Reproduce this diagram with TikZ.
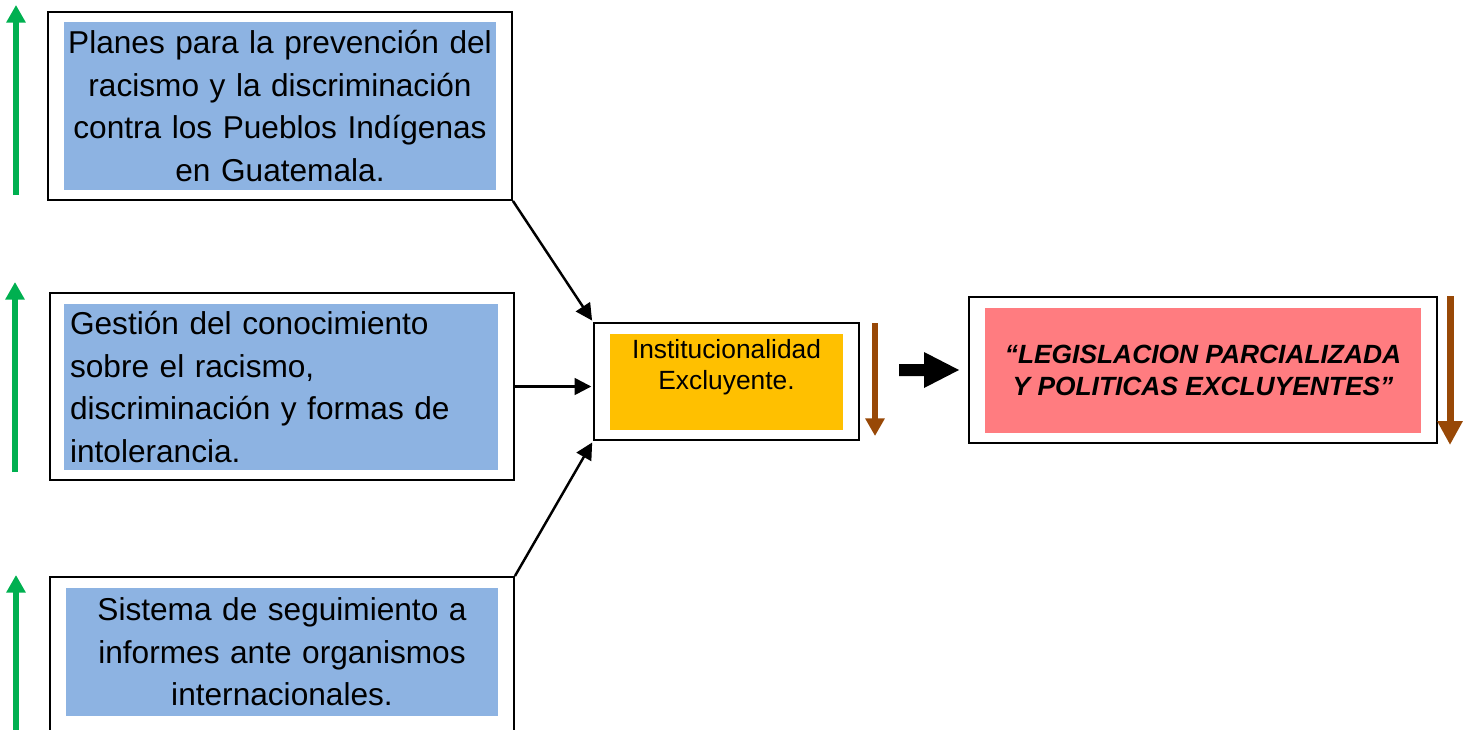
\documentclass[tikz,border=0pt]{standalone}
\usepackage{fontspec}
\setmainfont{Liberation Sans}
\usetikzlibrary{arrows.meta}

\definecolor{boxblue}{HTML}{8DB3E2}
\definecolor{boxorange}{HTML}{FFC000}
\definecolor{boxpink}{HTML}{FF7C80}
\definecolor{upgreen}{HTML}{00B050}
\definecolor{downbrown}{HTML}{984806}

\begin{document}
\begin{tikzpicture}[x = 0.02cm, y = -0.02cm, > = {Triangle[length = 9.5pt, width = 9.5pt]}, shorten > = 1pt, line width = 1.1pt,
    frame/.style = {draw, fill = white, inner sep = 0pt},
    bluebox/.style = {fill = boxblue, inner sep = 0pt, font = \fontsize{18}{24.2}\selectfont},
    smalltext/.style = {font = \fontsize{15}{18}\selectfont, align = center, inner sep = 0pt},
    link/.style = {->, line width = 1.4pt},
    greenup/.style = {draw = upgreen, line width = 3pt, shorten > = 0pt, -{Triangle[length = 10pt, width = 10.5pt]}},
    browndown/.style = {draw = downbrown, line width = 3pt, shorten > = 0pt, -{Triangle[length = 10pt, width = 10.5pt]}}]
    \useasboundingbox (0, 0) rectangle (1471, 730);
    % left boxes
    \node (f1) [frame, minimum width = 9.28cm, minimum height = 3.76cm] at (280, 106) {};
    \node (b1) [bluebox, minimum width = 8.64cm, minimum height = 3.36cm, align = center, text width = 8.64cm] at (280, 106)
        {Planes para la prevención del\\racismo y la discriminación\\contra los Pueblos Indígenas\\en Guatemala.};
    \node (f2) [frame, minimum width = 9.28cm, minimum height = 3.74cm] at (282, 386.5) {};
    \node (b2) [bluebox, minimum width = 8.68cm, minimum height = 3.32cm, align = left, inner xsep = 0.12cm, text width = 8.44cm] at (281, 387)
        {Gestión del conocimiento\\sobre el racismo,\\discriminación y formas de\\intolerancia.};
    \node (f3) [frame, minimum width = 9.28cm, minimum height = 3.8cm] at (282, 672) {};
    \node (b3) [bluebox, minimum width = 8.64cm, minimum height = 2.56cm, align = center, text width = 8.64cm] at (282, 652)
        {Sistema de seguimiento a\\informes ante organismos\\internacionales.};
    % middle box
    \node (fc) [frame, minimum width = 5.3cm, minimum height = 2.34cm] at (726.5, 381.5) {};
    \node (bc) [fill = boxorange, inner sep = 0pt, minimum width = 4.66cm, minimum height = 1.92cm] at (726.5, 382) {};
    \node (tc) [smalltext] at (726.5, 367) {Institucionalidad\\Excluyente.};
    % right box
    \node (fr) [frame, minimum width = 9.36cm, minimum height = 2.92cm] at (1203, 370) {};
    \node (br) [fill = boxpink, smalltext, minimum width = 8.72cm, minimum height = 2.5cm, font = \fontsize{15}{18}\selectfont\bfseries\itshape] at (1203, 370.5)
        {“LEGISLACION PARCIALIZADA\\Y POLITICAS EXCLUYENTES”};
    % block arrow
    \fill (899, 364) -- (924, 364) -- (924, 352) -- (959, 370) -- (924, 388) -- (924, 376) -- (899, 376) -- cycle;
    % connectors
    \draw[link] (f1.south east) -- (fc.north west);
    \draw[link] (f2.east) -- (f2.east -| fc.west);
    \draw[link] (f3.north east) -- (fc.south west);
    % side arrows
    \draw[greenup] (16, 195) -- (16, 5);
    \draw[greenup] (15, 472) -- (15, 282);
    \draw[greenup] (16, 740) -- (16, 575);
    \draw[browndown] (875, 323) -- (875, 436);
    \draw[browndown, line width = 4pt, -{Triangle[length = 13.6pt, width = 13.6pt]}] (1450, 296) -- (1450, 445);
\end{tikzpicture}
\end{document}
